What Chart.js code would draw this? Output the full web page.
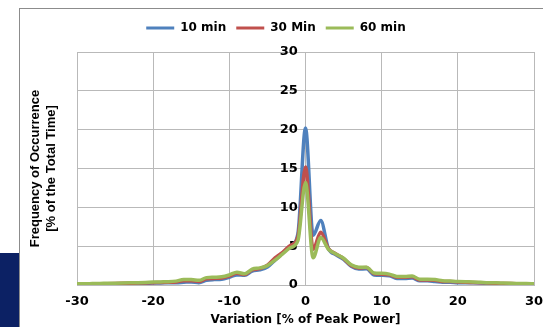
<!DOCTYPE html>
<html>
<head>
<meta charset="utf-8">
<title>Frequency of Occurrence vs Variation</title>
<script src="https://cdn.jsdelivr.net/npm/chart.js@4.4.1/dist/chart.umd.min.js"></script>
<style>
    html, body { margin: 0; padding: 0; background: #fff; }
    #wrap { position: relative; width: 543px; height: 327px; }
</style>
</head>
<body>
<div id="wrap"><canvas id="variationChart" width="543" height="327"></canvas></div>
<script>
// Variation [% of Peak Power], one point per percent
const variation = [-30, -29, -28, -27, -26, -25, -24, -23, -22, -21,
    -20, -19, -18, -17, -16, -15, -14, -13, -12, -11,
    -10, -9, -8, -7, -6, -5, -4, -3, -2, -1,
    0, 1, 2, 3, 4, 5, 6, 7, 8, 9,
    10, 11, 12, 13, 14, 15, 16, 17, 18, 19,
    20, 21, 22, 23, 24, 25, 26, 27, 28, 29, 30];

// Frequency of occurrence [% of total time]
const tenMin = [0.08, 0.09, 0.1, 0.11, 0.12, 0.14, 0.16, 0.18, 0.2, 0.22,
    0.25, 0.27, 0.28, 0.3, 0.35, 0.4, 0.3, 0.6, 0.7, 0.75,
    1.0, 1.3, 1.25, 1.8, 1.95, 2.3, 3.2, 4.1, 5.0, 6.6,
    20.2, 6.4, 8.3, 4.7, 3.9, 3.3, 2.4, 2.05, 2.1, 1.3,
    1.25, 1.2, 0.85, 0.85, 0.9, 0.55, 0.55, 0.45, 0.35, 0.35,
    0.3, 0.3, 0.28, 0.25, 0.2, 0.18, 0.15, 0.12, 0.1, 0.08, 0.07];

const thirtyMin = [0.12, 0.13, 0.14, 0.15, 0.17, 0.19, 0.21, 0.23, 0.25, 0.27,
    0.3, 0.32, 0.35, 0.4, 0.55, 0.55, 0.45, 0.8, 0.85, 0.9,
    1.15, 1.5, 1.35, 1.95, 2.1, 2.55, 3.5, 4.2, 5.1, 6.2,
    15.2, 4.6, 6.8, 4.7, 4.0, 3.4, 2.5, 2.2, 2.25, 1.45,
    1.4, 1.3, 1.0, 1.0, 1.05, 0.65, 0.65, 0.6, 0.45, 0.45,
    0.4, 0.35, 0.33, 0.3, 0.25, 0.22, 0.2, 0.18, 0.15, 0.12, 0.1];

const sixtyMin = [0.15, 0.16, 0.18, 0.2, 0.22, 0.24, 0.26, 0.28, 0.3, 0.33,
    0.38, 0.4, 0.42, 0.5, 0.7, 0.7, 0.6, 0.95, 1.0, 1.05,
    1.3, 1.65, 1.45, 2.05, 2.2, 2.5, 3.2, 4.0, 4.8, 5.7,
    13.2, 3.5, 6.1, 4.6, 4.0, 3.45, 2.6, 2.3, 2.3, 1.55,
    1.5, 1.4, 1.1, 1.1, 1.15, 0.75, 0.75, 0.7, 0.55, 0.5,
    0.45, 0.42, 0.4, 0.35, 0.3, 0.3, 0.25, 0.22, 0.2, 0.18, 0.15];

const xTicks = [-30, -20, -10, 0, 10, 20, 30];
const yTicks = [0, 5, 10, 15, 20, 25, 30];

// Excel 2007 style palette
const seriesColors = ['#4f81bd', '#c0504d', '#9bbb59'];
const gridColor = '#b9b9b9';
const boldFont = '"DejaVu Sans", Verdana, sans-serif';

function toPoints(values) {
    return variation.map((x, i) => ({ x: x, y: values[i] }));
}

// Outer chart frame and the navy corner block, plus some room under the legend
const framePlugin = {
    id: 'frame',
    beforeInit(chart) {
        const fit = chart.legend.fit;
        chart.legend.fit = function() {
            fit.bind(chart.legend)();
            this.height += 8;
        };
    },
    beforeDraw(chart) {
        const ctx = chart.ctx;
        ctx.save();
        ctx.fillStyle = '#0c2164';
        ctx.fillRect(0, 253, 19, 74);
        ctx.strokeStyle = '#8c8c8c';
        ctx.lineWidth = 1;
        ctx.strokeRect(19.5, 8.5, 600, 400);
        ctx.restore();
    }
};

const variationCtx = document.getElementById('variationChart').getContext('2d');
new Chart(variationCtx, {
    type: 'line',
    data: {
        datasets: [{
            label: '10 min',
            data: toPoints(tenMin),
            borderColor: seriesColors[0],
            backgroundColor: seriesColors[0],
            order: 3
        }, {
            label: '30 Min',
            data: toPoints(thirtyMin),
            borderColor: seriesColors[1],
            backgroundColor: seriesColors[1],
            order: 2
        }, {
            label: '60 min',
            data: toPoints(sixtyMin),
            borderColor: seriesColors[2],
            backgroundColor: seriesColors[2],
            order: 1
        }]
    },
    options: {
        responsive: false,
        animation: false,
        layout: {
            padding: { left: 10, right: 1, top: 12, bottom: 0 }
        },
        elements: {
            line: { borderWidth: 3.5, cubicInterpolationMode: 'monotone' },
            point: { radius: 0 }
        },
        plugins: {
            tooltip: { enabled: false },
            legend: {
                position: 'top',
                labels: {
                    color: '#000',
                    boxWidth: 28,
                    boxHeight: 3,
                    padding: 10,
                    font: { family: boldFont, size: 12, weight: 'bold' },
                    sort: (a, b) => a.datasetIndex - b.datasetIndex,
                    generateLabels(chart) {
                        const items = Chart.defaults.plugins.legend.labels.generateLabels(chart);
                        items.forEach(item => { item.lineWidth = 0; });
                        return items;
                    }
                }
            }
        },
        scales: {
            x: {
                type: 'linear',
                min: -30,
                max: 30,
                afterBuildTicks: scale => { scale.ticks = xTicks.map(v => ({ value: v })); },
                afterFit: scale => {
                    scale.height = 42;
                    scale.paddingLeft = 0;
                    scale.paddingRight = 9;
                },
                grid: { color: gridColor, drawTicks: false },
                border: { color: gridColor },
                ticks: {
                    color: '#000',
                    padding: 9,
                    font: { family: boldFont, size: 13, weight: 'bold' }
                },
                title: {
                    display: true,
                    text: 'Variation [% of Peak Power]',
                    color: '#000',
                    padding: { top: 2, bottom: 0 },
                    font: { family: boldFont, size: 12, weight: 'bold' }
                }
            },
            // value axis sits at the zero line, labels just left of it
            y: {
                position: { x: -1 },
                min: 0,
                max: 30,
                afterBuildTicks: scale => { scale.ticks = yTicks.map(v => ({ value: v })); },
                grid: { color: gridColor, drawTicks: false },
                border: { display: false },
                ticks: {
                    color: '#000',
                    font: { family: boldFont, size: 13, weight: 'bold' }
                }
            },
            // left strip only carries the axis title
            yTitle: {
                axis: 'y',
                position: 'left',
                min: 0,
                max: 30,
                afterFit: scale => { scale.width = 67; },
                grid: { display: false },
                border: { display: false },
                ticks: { display: false },
                title: {
                    display: true,
                    text: ['Frequency of Occurrence', '[% of the Total Time]'],
                    color: '#000',
                    padding: { top: 18, bottom: 0 },
                    font: { family: '"Liberation Sans", Arial, sans-serif', size: 13, weight: 'bold' }
                }
            }
        }
    },
    plugins: [framePlugin]
});
</script>
</body>
</html>
